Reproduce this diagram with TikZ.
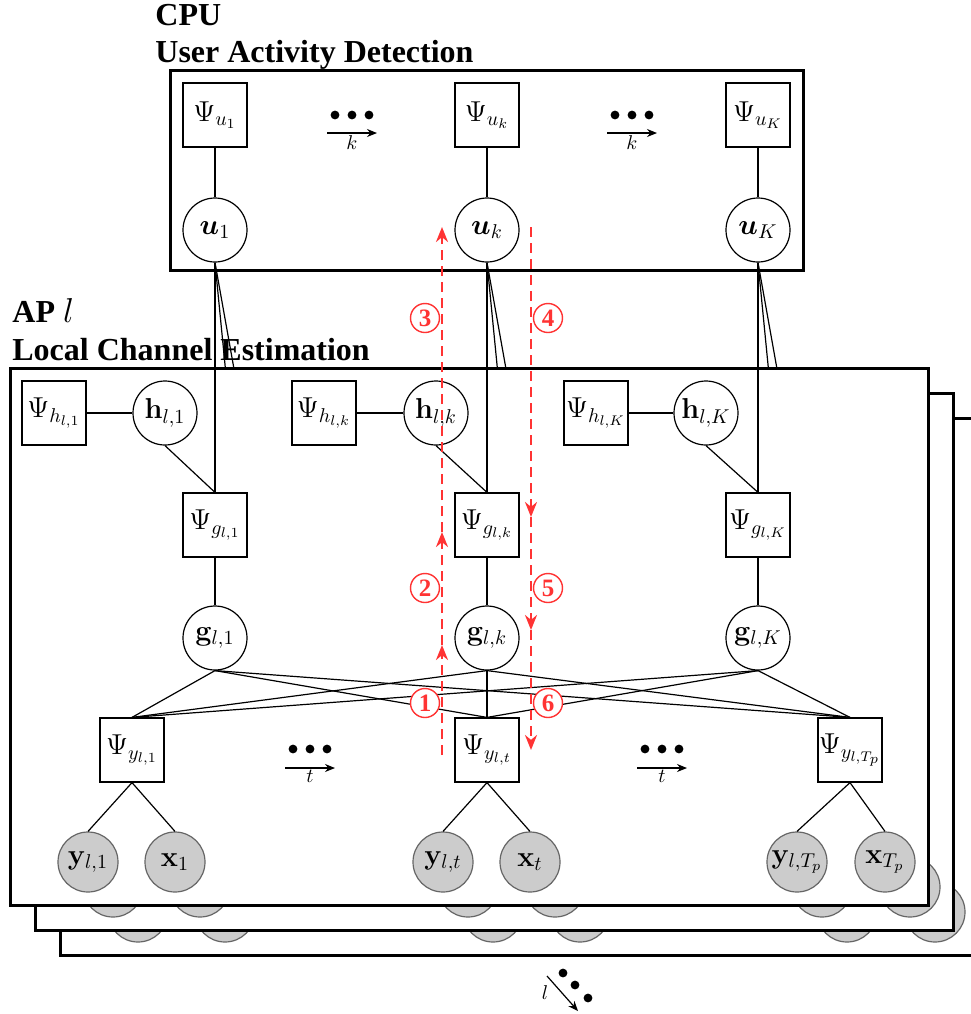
\documentclass[tikz,border=0pt]{standalone}
\usepackage{amsmath,amssymb}
\usepackage[no-math]{fontspec}
\setmainfont{Liberation Serif}
\usetikzlibrary{arrows.meta}
\definecolor{flowred}{RGB}{255,51,51}
\definecolor{obsgray}{RGB}{204,204,204}

\tikzset{
  factor/.style={draw,rectangle,minimum size=32pt,inner sep=0pt,fill=white,line width=0.6pt,font=\Large},
  var/.style={draw,circle,minimum size=32pt,inner sep=0pt,fill=white,line width=0.6pt,font=\Large},
  obs/.style={draw=black!60,circle,minimum size=30pt,inner sep=0pt,fill=obsgray,line width=0.6pt,font=\Large},
  plate/.style={draw,line width=1.5pt,fill=white},
  edge/.style={line width=0.6pt},
  flow/.style={flowred,line width=1.2pt,dash pattern=on 5pt off 3pt,-{Stealth[length=7.5pt,width=6pt]}},
  numtag/.style={circle,draw=flowred,text=flowred,fill=white,line width=0.7pt,inner sep=0pt,minimum size=14.5pt,font=\fontsize{12.5}{13}\selectfont\bfseries},
  heading/.style={anchor=base west,inner sep=0pt,font=\fontsize{16}{19}\selectfont\bfseries},
}

\begin{document}
\begin{tikzpicture}[x=0.5pt,y=-0.5pt]
  \useasboundingbox (0,0) rectangle (971,1014);

  % titles
  \node[heading] (cputitle) at (155,25) {CPU};
  \node[heading] (cpusub) at (155,62) {User Activity Detection};
  \node[heading] (aptitle) at (12,322) {AP $l$};
  \node[heading] (apsub) at (12,360) {Local Channel Estimation};

  % CPU plate
  \draw[plate] (170,70) rectangle (803,270);
  \foreach \x/\s/\n in {215/1/1,487/k/k,758/K/K}{
    \node[factor] (psiU\n) at (\x,115) {$\Psi_{u_\s}$};
    \node[var] (u\n) at (\x,230) {$\boldsymbol{u}_\s$};
    \draw[edge] (psiU\n) -- (u\n);
  }
  \foreach \x/\n in {352/a,632/b}{
    \foreach \dx in {-17,0,17}
      \fill (\x+\dx,115) circle (2.2pt);
    \coordinate (ks\n) at (\x-25,133);
    \coordinate (ke\n) at (\x+25,133);
    \draw[-{Stealth[length=5pt,width=4pt]},line width=0.6pt] (ks\n) -- (ke\n)
      node[midway,below=0pt,inner sep=1pt] {$k$};
  }

  % AP plates, back to front
  \foreach \d in {50,25,0}{
  \begin{scope}[shift={(\d,\d)}]
    \draw[plate] (10,368) rectangle (928,905);
    \foreach \xa/\xb/\xg/\s/\n in {54/165/215/1/1,324/436/487/k/k,596/706/758/K/K}{
      \node[factor] (psiH\n) at (\xa,413) {$\Psi_{h_{l,\s}}$};
      \node[var] (h\n) at (\xb,413) {$\mathbf{h}_{l,\s}$};
      \node[factor] (psiG\n) at (\xg,525) {$\Psi_{g_{l,\s}}$};
      \node[var] (g\n) at (\xg,638) {$\mathbf{g}_{l,\s}$};
      \draw[edge] (psiH\n) -- (h\n);
      \draw[edge] (h\n.south) -- (psiG\n.north);
      \draw[edge] (psiG\n) -- (g\n);
      \draw[edge] (u\n.south) -- (psiG\n.north);
    }
    \foreach \xp/\xy/\xx/\s/\n in {132/88/175/1/1,487/443/530/t/t,850/797/885/T_p/T}{
      \node[factor] (psiY\n) at (\xp,750) {$\Psi_{y_{l,\s}}$};
      \node[obs] (y\n) at (\xy,862) {$\mathbf{y}_{l,\s}$};
      \node[obs] (x\n) at (\xx,862) {$\mathbf{x}_{\s}$};
      \draw[edge] (psiY\n.south) -- (y\n.north);
      \draw[edge] (psiY\n.south) -- (x\n.north);
    }
    \foreach \g in {1,k,K}
      \foreach \y in {1,t,T}
        \draw[edge] (g\g.south) -- (psiY\y.north);
    \foreach \x/\n in {310/a,662/b}{
      \foreach \dx in {-17,0,17}
        \fill (\x+\dx,749) circle (2.2pt);
      \coordinate (ts\n) at (\x-25,768);
      \coordinate (te\n) at (\x+25,768);
      \draw[-{Stealth[length=5pt,width=4pt]},line width=0.6pt] (ts\n) -- (te\n)
        node[midway,below=0pt,inner sep=1pt] {$t$};
    }
  \end{scope}}

  % message passing order
  \coordinate (up0) at (442,755);
  \coordinate (up1) at (442,645);
  \coordinate (up2) at (442,532);
  \coordinate (up3) at (442,227);
  \coordinate (dn0) at (531,227);
  \coordinate (dn1) at (531,517);
  \coordinate (dn2) at (531,630);
  \coordinate (dn3) at (531,750);
  \draw[flow] (up0) -- (up1);
  \draw[flow] (up1) -- (up2);
  \draw[flow] (up2) -- (up3);
  \draw[flow] (dn0) -- (dn1);
  \draw[flow] (dn1) -- (dn2);
  \draw[flow] (dn2) -- (dn3);
  \node[numtag] (n1) at (425,703) {1};
  \node[numtag] (n2) at (425,588) {2};
  \node[numtag] (n3) at (425,318) {3};
  \node[numtag] (n4) at (548,318) {4};
  \node[numtag] (n5) at (548,588) {5};
  \node[numtag] (n6) at (548,703) {6};

  % more AP layers
  \coordinate (ls) at (547,976);
  \coordinate (le) at (578,1011);
  \draw[-{Stealth[length=5pt,width=4pt]},line width=0.6pt] (ls) -- (le);
  \node (lname) at (545,993) {$l$};
  \foreach \p in {(563,973),(575,985),(588,998)}
    \fill \p circle (2.2pt);
\end{tikzpicture}
\end{document}
